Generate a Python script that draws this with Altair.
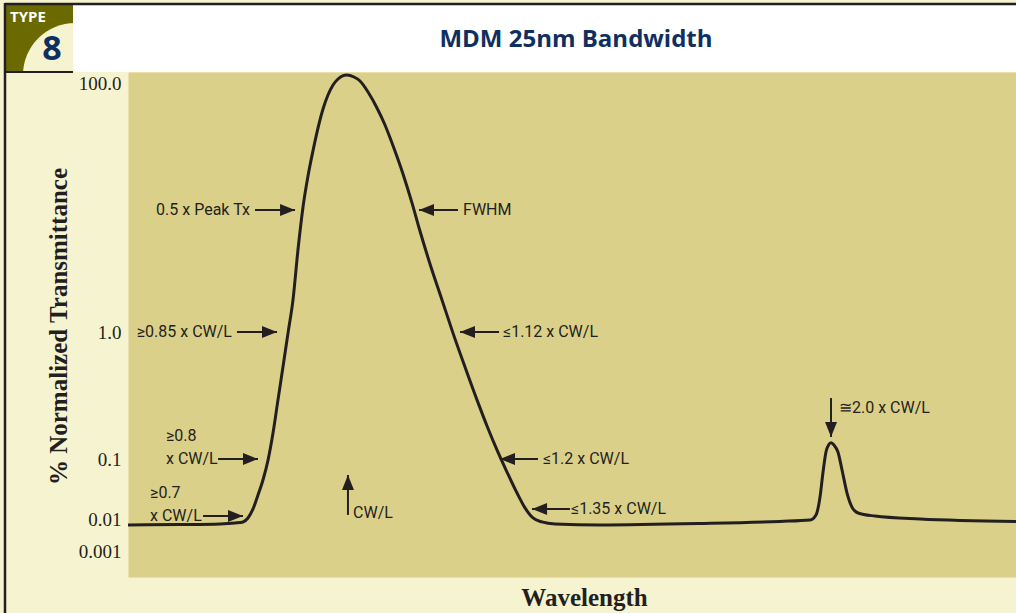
import altair as alt
import pandas as pd

# ---------------- data ----------------
# Relative wavelength (arbitrary units, plot spans 0-100) and % normalized transmittance
wavelength = [0, 5.86, 10.36, 12.05, 12.95, 13.51, 14.08, 14.64, 15.20, 15.77, 16.33, 16.89,
              17.45, 18.02, 18.58, 19.14, 19.71, 20.27, 20.83, 21.40, 21.96, 22.52, 23.09,
              23.65, 24.10, 24.66, 25.45, 26.13, 27.03, 28.04, 28.94, 29.73, 30.97, 31.98, 32.88,
              34.01, 35.36, 36.60, 37.95, 39.30, 40.43, 41.55, 42.68, 43.81, 44.71, 45.61,
              46.62, 48.09, 53.15, 64.41, 73.42, 76.80, 77.48, 77.93, 78.27, 78.60, 78.89,
              79.17, 79.50, 79.95, 80.41, 80.97, 81.53, 82.21, 84.12, 89.19, 100]
transmittance = [0.0065, 0.0067, 0.0070, 0.0075, 0.0081, 0.0104, 0.0147, 0.0251, 0.0447,
                 0.096, 0.160, 0.292, 0.530, 0.98, 1.81, 4.56, 10.1, 17.9, 28.5, 43.6, 61.8,
                 80.1, 96.4, 107.7, 113.8, 116, 111.7, 103.8, 84.7, 63.0, 46.0, 33.0, 18.6, 10.9,
                 6.47, 3.52, 1.81, 0.98, 0.530, 0.292, 0.182, 0.118, 0.0607, 0.0271, 0.0153,
                 0.0104, 0.0081, 0.0070, 0.0065, 0.0072, 0.0084, 0.0093, 0.0117, 0.0233,
                 0.0607, 0.1135, 0.129, 0.134, 0.129, 0.1135, 0.0656, 0.0271, 0.0158, 0.0126,
                 0.0112, 0.010, 0.0084]

tick_values = [0.001, 0.01, 0.1, 1, 100]
tick_labels = ["0.001", "0.01", "0.1", "1.0", "100.0"]

# arrows: tail -> tip (data units), direction angle of head
arrow_tail_x = [14.30, 12.27, 10.14, 8.45, 37.16, 41.78, 46.17, 49.77, 24.77, 79.17]
arrow_tail_y = [9.55, 1.0, 0.1, 0.0112, 9.55, 1.0, 0.1, 0.0147, 0.0117, 0.302]
arrow_tip_x = [18.81, 16.78, 14.64, 12.95, 32.77, 37.39, 41.89, 45.50, 24.77, 79.17]
arrow_tip_y = [9.55, 1.0, 0.1, 0.0112, 9.55, 1.0, 0.1, 0.0147, 0.0541, 0.149]
arrow_angle = [0, 0, 0, 0, 180, 180, 180, 180, 270, 90]

# labels ending at their anchor
right_labels = ["0.5 x Peak Tx", "≥0.85 x CW/L"]
right_x = [13.74, 11.71]
right_y = [9.55, 1.0]

# labels starting at their anchor
left_labels = ["≥0.8", "x CW/L", "≥0.7", "x CW/L", "FWHM", "≤1.12 x CW/L",
               "≤1.2 x CW/L", "≤1.35 x CW/L", "CW/L", "≅2.0 x CW/L"]
left_x = [4.28, 4.28, 2.48, 2.48, 37.73, 42.23, 46.73, 49.89, 25.34, 80.07]
left_y = [0.152, 0.1, 0.0271, 0.0112, 9.55, 1.0, 0.1, 0.0147, 0.0126, 0.252]

title_text = "MDM 25nm Bandwidth"
x_title = "Wavelength"
y_title = "% Normalized Transmittance"

# ---------------- styles ----------------
INK = "#231F20"
NAVY = "#0F2F60"
OLIVE = "#6A6A00"
CREAM = "#F6F3D0"
TAN = "#DBD08A"
W, H = 888, 505
NARROW = "Liberation Sans Narrow, Roboto, sans-serif"
SERIF = "Liberation Serif, DejaVu Serif, serif"
ANN_SIZE = 16

label_expr = " : ".join(
    f"datum.value == {v} ? '{l}'" for v, l in zip(tick_values, tick_labels)
) + " : ''"

x_scale = alt.Scale(domain=[0, 100], nice=False, zero=False)
y_scale = alt.Scale(type="log", domain=tick_values, range=[479, 447, 387, 260, 11], nice=False)

x_axis = alt.Axis(title=x_title, labels=False, ticks=False, domain=False, grid=False,
                  titleFont=SERIF, titleFontSize=25, titleFontWeight="bold", titleColor=INK,
                  titleX=456, titleY=28, titleBaseline="alphabetic", titleAnchor="start",
                  titleAlign="center", zindex=1)
y_axis = alt.Axis(title=y_title, values=tick_values, labelExpr=label_expr, ticks=False,
                  tickSize=0, domain=False, grid=False, labelPadding=7, labelFont=SERIF,
                  labelFontSize=19, labelColor=INK, labelOverlap=False,
                  titleFont=SERIF, titleFontSize=25, titleFontWeight="bold", titleColor=INK,
                  titleAngle=270, titleX=-70, titleY=254, titleAlign="center",
                  titleBaseline="middle", zindex=1)


def X(field):
    return alt.X(field, scale=x_scale, axis=x_axis)


def Y(field):
    return alt.Y(field, scale=y_scale, axis=y_axis)


curve_df = pd.DataFrame({"wavelength": wavelength, "transmittance": transmittance})
arrow_df = pd.DataFrame({"tail_x": arrow_tail_x, "tail_y": arrow_tail_y,
                         "tip_x": arrow_tip_x, "tip_y": arrow_tip_y, "angle": arrow_angle})
right_df = pd.DataFrame({"label": right_labels, "x": right_x, "y": right_y})
left_df = pd.DataFrame({"label": left_labels, "x": left_x, "y": left_y})
dummy = pd.DataFrame({"k": [0]})

# ---------------- decorations ----------------
def rect(x1, x2, y1, y2, color):
    return alt.Chart(dummy).mark_rect(color=color).encode(
        x=alt.value(x1), x2=alt.value(x2), y=alt.value(y1), y2=alt.value(y2))


def hline(x1, x2, y, width):
    return alt.Chart(dummy).mark_rule(color=INK, strokeWidth=width).encode(
        x=alt.value(x1), x2=alt.value(x2), y=alt.value(y))


olive = rect(-122, -55, -67, 0, OLIVE)
cream_circle = alt.Chart(dummy).mark_circle(color=CREAM, opacity=1, size=10816).encode(
    x=alt.value(-53), y=alt.value(3))
white_band = rect(-55, W, -67, 0, "#FFFFFF")
top_line = hline(-123, W, -68, 2.5)
badge_line = hline(-123, -55, 0, 2)
left_line = alt.Chart(dummy).mark_rule(color=INK, strokeWidth=2.5).encode(
    x=alt.value(-123), y=alt.value(-69), y2=alt.value(H + 40))

title = alt.Chart(dummy).mark_text(
    text=title_text, font="Open Sans", fontSize=24, fontWeight="bold", color=NAVY,
    align="center", baseline="middle").encode(x=alt.value(448), y=alt.value(-32))
type_txt = alt.Chart(dummy).mark_text(
    text="TYPE", font="Open Sans", fontSize=15, fontWeight="bold", color="#FFFFFF",
    align="left", baseline="middle").encode(x=alt.value(-118), y=alt.value(-55))
eight = alt.Chart(dummy).mark_text(
    text="8", font="Open Sans", fontSize=34, fontWeight="bold", color=NAVY,
    align="center", baseline="middle").encode(x=alt.value(-76), y=alt.value(-22))

# ---------------- data layers ----------------
curve = alt.Chart(curve_df).mark_line(color=INK, strokeWidth=3, interpolate="monotone").encode(
    x=X("wavelength:Q"), y=Y("transmittance:Q"))

shaft = alt.Chart(arrow_df).mark_rule(color=INK, strokeWidth=2).encode(
    x=X("tail_x:Q"), x2="tip_x:Q", y=Y("tail_y:Q"), y2="tip_y:Q")
head = alt.Chart(arrow_df).mark_point(
    shape="M0,0 L-1.5,-0.6 L-1.5,0.6 Z", filled=True, size=400, color=INK, opacity=1,
    strokeWidth=0).encode(x=X("tip_x:Q"), y=Y("tip_y:Q"), angle=alt.Angle("angle:Q", scale=None))

right_text = alt.Chart(right_df).mark_text(
    font=NARROW, fontSize=ANN_SIZE, color=INK, align="right", baseline="middle").encode(
    x=X("x:Q"), y=Y("y:Q"), text="label:N")
left_text = alt.Chart(left_df).mark_text(
    font=NARROW, fontSize=ANN_SIZE, color=INK, align="left", baseline="middle").encode(
    x=X("x:Q"), y=Y("y:Q"), text="label:N")

chart = alt.layer(
    curve, shaft, head, right_text, left_text,
    olive, cream_circle, white_band, top_line, badge_line, left_line,
    title, type_txt, eight,
).properties(
    width=W, height=H,
    padding={"left": 128, "top": 72, "right": 0, "bottom": 36},
    autosize=alt.AutoSizeParams(type="none"),
    background=CREAM,
).configure_view(fill=TAN, strokeOpacity=0)

chart.save("out.html", embed_options={"renderer": "svg", "actions": False})
